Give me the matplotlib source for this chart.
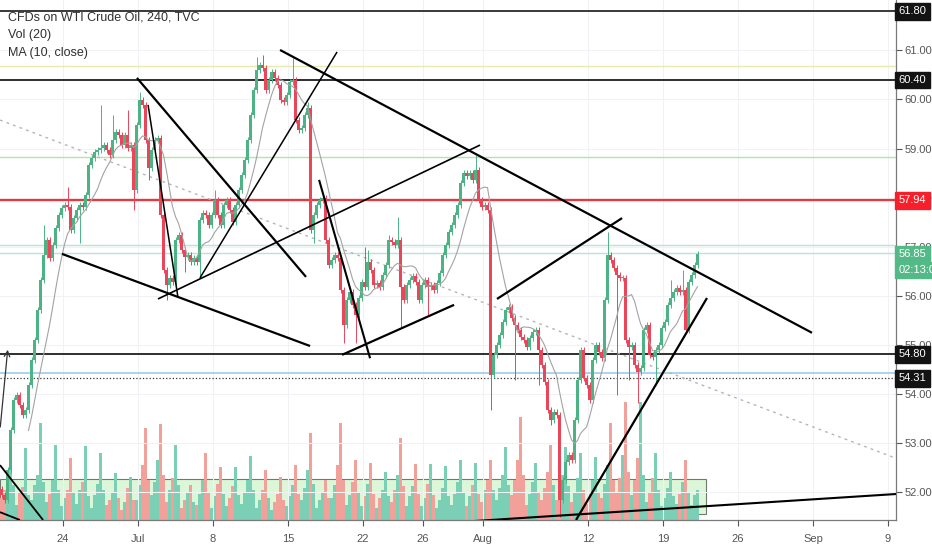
import numpy as np
import pandas as pd
import matplotlib

matplotlib.use("Agg")
import matplotlib.pyplot as plt
import matplotlib.transforms as mtransforms
from matplotlib.patches import Rectangle

plt.rcParams["font.family"] = ["Liberation Sans", "DejaVu Sans"]

# 4h closes, 5 bars per trading day, first bar on Tue 18 Jun
closes = [
    51.93, 51.83, 52.44, 53.26, 53.87, 53.97, 53.77, 53.56, 53.66, 54.17,
    54.68, 55.09, 55.70, 56.32, 56.83, 57.13, 56.77, 57.03, 57.38, 57.64,
    57.79, 57.85, 57.81, 57.34, 57.58, 57.74, 57.85, 57.81, 58.05, 58.66,
    58.81, 58.93, 58.97, 59.01, 59.07, 58.97, 58.87, 59.17, 59.34, 59.28,
    59.07, 59.28, 59.01, 59.07, 58.15, 59.48, 59.99, 59.89, 59.17, 58.60,
    58.97, 59.17, 59.21, 57.64, 56.52, 56.21, 56.36, 56.28, 57.13, 57.23,
    56.93, 56.79, 56.83, 56.68, 56.77, 56.68, 57.54, 57.68, 57.64, 57.44,
    57.64, 57.95, 57.64, 57.44, 57.85, 57.95, 57.74, 57.50, 57.85, 58.15,
    58.46, 58.77, 59.17, 59.68, 60.19, 60.60, 60.70, 60.64, 60.19, 60.40,
    60.56, 60.44, 60.30, 59.99, 59.95, 60.09, 60.36, 60.40, 59.58, 59.38,
    59.42, 59.68, 59.83, 57.34, 57.64, 57.85, 57.95, 57.99, 57.13, 56.62,
    56.72, 56.83, 56.77, 56.11, 55.40, 55.91, 56.07, 55.81, 55.60, 55.95,
    56.28, 56.17, 56.68, 56.52, 56.21, 56.25, 56.17, 56.42, 56.62, 57.13,
    57.09, 57.03, 57.13, 56.17, 55.91, 56.21, 56.32, 56.40, 56.28, 55.91,
    56.21, 56.32, 56.17, 56.21, 56.11, 56.25, 56.46, 56.83, 57.03, 57.30,
    57.44, 57.64, 57.85, 58.30, 58.50, 58.44, 58.50, 58.36, 58.56, 57.95,
    57.81, 57.85, 57.74, 54.38, 54.79, 54.99, 55.19, 55.46, 55.70, 55.77,
    55.54, 55.40, 55.30, 55.15, 55.09, 54.95, 55.13, 55.25, 55.30, 54.89,
    54.58, 54.23, 53.66, 53.46, 53.62, 53.56, 51.83, 52.23, 52.60, 52.74,
    52.64, 53.46, 54.28, 54.89, 54.32, 54.17, 53.87, 54.68, 54.99, 54.85,
    54.72, 55.91, 56.83, 56.72, 56.56, 56.42, 56.36, 56.36, 55.09, 54.95,
    54.99, 54.58, 54.44, 54.52, 55.30, 55.40, 54.79, 54.74, 54.89, 54.99,
    55.34, 55.46, 55.81, 55.95, 56.07, 56.15, 56.07, 56.11, 55.30, 56.28,
    56.42, 56.62, 56.85,
]
first_open = 52.05

# long wicks: bar -> (high, low); None keeps the short default
long_wicks = {
    14: (57.44, None), 22: (58.21, None), 26: (None, 57.07), 33: (59.89, None),
    37: (59.68, None), 42: (59.79, None), 44: (None, 57.74), 46: (60.15, None),
    49: (None, 58.36), 55: (None, 55.91), 61: (None, 56.48), 66: (None, 56.38),
    71: (58.15, None), 85: (60.87, None), 87: (60.91, None), 97: (60.85, None),
    102: (59.95, None), 104: (None, 57.07), 114: (None, 55.03), 118: (None, 55.03),
    121: (56.99, None), 122: (56.93, None), 129: (57.23, None), 132: (57.60, None),
    133: (None, 55.36), 142: (None, 55.60), 158: (58.87, None), 163: (None, 53.66),
    171: (None, 54.28), 179: (None, 54.17), 183: (None, 53.36), 186: (None, 51.48),
    202: (57.30, None), 205: (None, 53.97), 209: (None, 54.28), 212: (None, 53.81),
    218: (None, 54.17), 223: (56.32, None), 227: (56.52, None),
}
short_wick = 0.06

volumes = [
    22, 30, 40, 87, 35, 15, 28, 33, 72, 25, 20, 35, 45, 97, 38, 18, 26, 40, 75, 30,
    14, 22, 30, 62, 28, 16, 30, 38, 74, 24, 12, 25, 36, 67, 30, 15, 20, 28, 47, 22,
    10, 18, 32, 43, 20, 20, 35, 55, 92, 40, 25, 38, 60, 96, 45, 18, 30, 42, 75, 35,
    12, 20, 28, 35, 18, 15, 26, 40, 67, 28, 12, 24, 36, 53, 26, 14, 22, 34, 53, 25,
    16, 28, 40, 64, 30, 12, 20, 30, 50, 22, 10, 18, 26, 43, 20, 14, 24, 35, 55, 26,
    20, 32, 50, 87, 36, 12, 20, 28, 40, 22, 22, 35, 55, 97, 40, 15, 25, 38, 60, 28,
    14, 24, 36, 57, 26, 12, 22, 30, 48, 24, 18, 30, 45, 82, 34, 14, 24, 34, 56, 26,
    14, 22, 36, 56, 25, 12, 20, 32, 54, 24, 15, 26, 38, 60, 28, 14, 24, 35, 57, 26,
    18, 30, 40, 60, 30, 20, 32, 45, 73, 35, 25, 40, 60, 103, 45, 15, 26, 38, 57, 28,
    20, 32, 48, 75, 35, 20, 30, 45, 73, 34, 18, 28, 42, 67, 30, 16, 26, 40, 63, 28,
    22, 36, 55, 97, 40, 28, 42, 65, 118, 48, 25, 40, 62, 118, 45, 18, 28, 42, 67, 30,
    14, 22, 32, 48, 24, 16, 26, 38, 60, 28, 15, 25, 30,
]

# x axis in trading days, 0 = Mon 24 Jun
first_bar_day = -4.1
bars_per_day = 5
tick_days = [0, 5, 10, 15, 20, 24, 28, 35, 40, 45, 50, 55]
tick_labels = ["24", "Jul", "8", "15", "22", "26", "Aug", "12", "19", "26", "Sep", "9"]
price_ticks = [52, 53, 54, 55, 56, 57, 58, 59, 60, 61]

# drawn levels: (price, colour, width, style)
levels = [
    (61.80, "#2a2a2a", 1.3, "-"),
    (60.68, "#e8ebb0", 1.0, "-"),
    (60.40, "#1e1e1e", 1.3, "-"),
    (58.83, "#b5e3a8", 1.0, "-"),
    (57.94, "#f0343c", 1.6, "-"),
    (57.03, "#b9e2dc", 1.0, "-"),
    (56.87, "#b9e2dc", 1.0, "-"),
    (54.80, "#1e1e1e", 1.3, "-"),
    (54.41, "#9ecbe8", 1.2, "-"),
    (54.31, "#333333", 0.9, ":"),
]
# trendlines: ((day, price), (day, price), width)
trendlines = [
    ((-0.07, 56.85), (16.47, 54.97), 1.6),
    ((4.93, 60.44), (16.20, 56.38), 1.6),
    ((5.67, 59.89), (7.67, 55.95), 1.1),
    ((6.33, 55.93), (27.80, 59.07), 1.2),
    ((9.13, 56.36), (18.27, 60.97), 1.1),
    ((14.47, 61.01), (49.93, 55.24), 1.6),
    ((17.07, 58.36), (20.47, 54.72), 1.5),
    ((18.60, 54.79), (26.07, 55.81), 1.6),
    ((28.93, 55.93), (37.27, 57.58), 1.6),
    ((34.20, 51.42), (42.93, 55.95), 1.6),
    ((26.47, 51.38), (55.53, 51.95), 1.5),
    ((-4.20, 52.54), (-1.33, 51.42), 1.3),
    ((-4.20, 51.58), (-2.87, 51.42), 1.3),
]
dotted_trend = ((-4.20, 59.58), (55.53, 52.68))
arrow = ((-4.20, 53.26), (-3.67, 54.95))
vol_box = (-4.2, 42.87, 6, 41)  # day start, day end, volume low, volume high

# right scale badges: (price, text, colour)
badges = [
    (61.80, "61.80", "#131313"),
    (60.40, "60.40", "#131313"),
    (57.94, "57.94", "#f7202a"),
    (56.85, "56.85", "#53b987"),
    (56.52, "02:13:00", "#53b987"),
    (54.80, "54.80", "#131313"),
    (54.31, "54.31", "#131313"),
]

up_col, dn_col = "#4cb484", "#ea4558"
vol_up, vol_dn = "#7acfb4", "#f2a09a"

close = np.array(closes)
opens = np.concatenate([[first_open], close[:-1]])
highs = np.maximum(opens, close) + short_wick
lows = np.minimum(opens, close) - short_wick
for i, (h, l) in long_wicks.items():
    if h is not None:
        highs[i] = h
    if l is not None:
        lows[i] = l
xs = first_bar_day + np.arange(len(close)) / bars_per_day
is_up = close >= opens
ma10 = pd.Series(close).rolling(10).mean()

fig = plt.figure(figsize=(9.32, 5.5), dpi=100)
ax = fig.add_axes([0, 30 / 550, 896 / 932, 520 / 550])
axv = ax.twinx()
ax.set_zorder(axv.get_zorder() + 1)
ax.patch.set_visible(False)

# volume pane
axv.set_ylim(0, 520)
axv.set_yticks([])
for s in axv.spines.values():
    s.set_visible(False)
axv.add_patch(Rectangle((vol_box[0], vol_box[2]), vol_box[1] - vol_box[0], vol_box[3] - vol_box[2],
                        facecolor="#dcf7d8", edgecolor="#6f7a6f", lw=0.8, zorder=1))
axv.bar(xs, volumes, width=0.15, color=np.where(is_up, vol_up, vol_dn), zorder=2)

# price pane
for p, c, w, ls in levels:
    ax.axhline(p, color=c, lw=w, ls=ls, zorder=2)
ax.plot([dotted_trend[0][0], dotted_trend[1][0]], [dotted_trend[0][1], dotted_trend[1][1]],
        color="#b5b5b5", lw=1.0, dashes=(2, 3), zorder=2)

cols = np.where(is_up, up_col, dn_col)
ax.vlines(xs, lows, highs, colors=cols, lw=0.7, zorder=3)
body = np.maximum(np.abs(close - opens), 0.025)
ax.bar(xs, body, bottom=np.minimum(opens, close), width=0.16, color=cols, zorder=4)
ax.plot(xs, ma10, color="#a3a3a3", lw=0.8, zorder=5)

for (x0, y0), (x1, y1), w in trendlines:
    ax.plot([x0, x1], [y0, y1], color="#000000", lw=w, zorder=6, solid_capstyle="butt")
ax.annotate("", xy=arrow[1], xytext=arrow[0],
            arrowprops=dict(arrowstyle="->", color="#333333", lw=0.9), zorder=6)

ax.set_xlim(-4.2, 55.53)
ax.set_ylim(51.42, 62.03)
ax.grid(True, color="#f0f2f5", lw=0.8)
ax.set_axisbelow(True)

ax.yaxis.tick_right()
ax.set_yticks(price_ticks)
ax.set_yticklabels([f"{p:.2f}" for p in price_ticks])
ax.set_xticks(tick_days)
ax.set_xticklabels(tick_labels)
ax.tick_params(axis="both", colors="#555555", labelsize=8, length=4, width=0.8)
ax.tick_params(axis="y", pad=2)
ax.tick_params(axis="x", pad=6)
for side in ["left", "top"]:
    ax.spines[side].set_visible(False)
for side in ["right", "bottom"]:
    ax.spines[side].set_color("#7a7a7a")
    ax.spines[side].set_linewidth(0.9)

trans = mtransforms.blended_transform_factory(ax.transAxes, ax.transData)
for p, txt, c in badges:
    ax.text(1.003, p, txt, transform=trans, ha="left", va="center", fontsize=8, color="white",
            clip_on=False, zorder=10,
            bbox=dict(boxstyle="square,pad=0.3", fc=c, ec=c))

fig.text(8 / 932, 1 - 17 / 550, "CFDs on WTI Crude Oil, 240, TVC", fontsize=9, color="#303030", va="center")
fig.text(8 / 932, 1 - 35 / 550, "Vol (20)", fontsize=9, color="#303030", va="center")
fig.text(8 / 932, 1 - 53 / 550, "MA (10, close)", fontsize=9, color="#303030", va="center")

fig.savefig("out.png", dpi=100)
